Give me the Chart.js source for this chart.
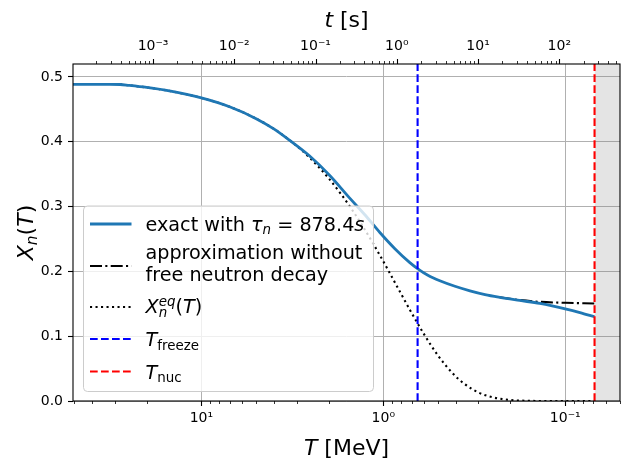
<!DOCTYPE html>
<html>
<head>
<meta charset="utf-8">
<script src="https://cdn.jsdelivr.net/npm/chart.js@4"></script>
<style>
  html, body { margin: 0; padding: 0; background: #fff; }
</style>
</head>
<body>
<canvas id="canvas" width="630" height="470"></canvas>
<script>
const ctx = document.getElementById('canvas');

// temperature T [MeV], high to low
const tempExact = [50.8, 40, 32, 28, 25, 20, 15, 10, 7, 5, 4, 3.3, 2.54, 1.97, 1.53, 1.26, 1.045, 0.864, 0.715, 0.646, 0.569, 0.489, 0.404, 0.334, 0.276, 0.229, 0.178, 0.138, 0.118, 0.1, 0.083, 0.069];
const xnExact   = [0.4885, 0.4885, 0.4885, 0.4884, 0.4870, 0.4838, 0.4785, 0.4677, 0.454, 0.4357, 0.4199, 0.403, 0.378, 0.348, 0.313, 0.287, 0.260, 0.235, 0.2135, 0.204, 0.194, 0.1855, 0.177, 0.170, 0.1642, 0.160, 0.1552, 0.1505, 0.1468, 0.1423, 0.1365, 0.130];

const tempApprox = [0.229, 0.178, 0.138, 0.1, 0.083, 0.069];
const xnApprox   = [0.160, 0.1557, 0.1530, 0.1515, 0.1510, 0.1505];

const tempEq = [28, 20, 15, 10, 7, 5, 4, 3, 2.5, 2, 1.7, 1.5, 1.3, 1.15, 1.0, 0.9, 0.8, 0.7, 0.6, 0.5, 0.42, 0.36, 0.3, 0.25, 0.2, 0.16, 0.12, 0.1, 0.069];
const xnEq   = [0.4885, 0.4838, 0.4785, 0.4677, 0.454, 0.4357, 0.4199, 0.3939, 0.3735, 0.3438, 0.3185, 0.2969, 0.2700, 0.2452, 0.2154, 0.1920, 0.1657, 0.1362, 0.1039, 0.0700, 0.0440, 0.0268, 0.0132, 0.0056, 0.0016, 0.0003, 0, 0, 0];

const tFreeze = 0.648;
const tNuc = 0.069;

const tempMin = 0.05, tempMax = 50.8;      // bottom axis (reversed)
const timeMin = 1.035e-4, timeMax = 559;   // top axis t [s]
const yTicks = [0, 0.1, 0.2, 0.3, 0.4, 0.5];
const yMax = 0.52;

const FONT = '"DejaVu Sans", sans-serif';
const pts = (xs, ys) => xs.map((x, i) => ({ x: x, y: ys[i] }));

function isPow10(v) {
  const e = Math.round(Math.log10(v));
  return Math.abs(v / Math.pow(10, e) - 1) < 1e-6;
}
function isNice(v) {
  const e = Math.floor(Math.log10(v) + 1e-9);
  const m = v / Math.pow(10, e);
  return Math.abs(m - Math.round(m)) < 1e-6;
}
const SUP = { '-': '\u207b', '0': '\u2070', '1': '\u00b9', '2': '\u00b2', '3': '\u00b3' };
function powLabel(v) {
  if (!isPow10(v)) return '';
  const e = String(Math.round(Math.log10(v)));
  return '10' + e.split('').map(c => SUP[c]).join('');
}
function keepNice(scale) {
  scale.ticks = scale.ticks.filter(t => isNice(t.value) && t.value >= scale.min * 0.9999 && t.value <= scale.max * 1.0001);
}

// --- small mathtext-like writer
function segFont(s, size) {
  const sz = (s.sub || s.sup) ? size * 0.7 : size;
  return (s.it ? 'italic ' : '') + sz.toFixed(2) + 'px ' + FONT;
}
function layoutRich(c, segs, size) {
  let x = 0, prevStart = 0;
  const items = [];
  for (const s of segs) {
    c.font = segFont(s, size);
    const w = c.measureText(s.t).width;
    const sx = s.over ? prevStart : x;
    items.push({ t: s.t, x: sx, font: c.font, dy: s.sub ? size * 0.2 : (s.sup ? -size * 0.36 : 0) });
    if (!s.over) prevStart = sx;
    x = Math.max(x, sx + w);
  }
  return { items: items, width: x };
}
function drawRich(c, segs, x, y, size, align) {
  const L = layoutRich(c, segs, size);
  const x0 = align === 'center' ? x - L.width / 2 : x;
  c.textBaseline = 'alphabetic';
  c.textAlign = 'left';
  for (const it of L.items) {
    c.font = it.font;
    c.fillText(it.t, x0 + it.x, y + it.dy);
  }
}

const legendRows = [
  { ds: 0, y: 224, lines: [[{ t: 'exact with ' }, { t: '\u03c4', it: 1 }, { t: 'n', it: 1, sub: 1 }, { t: ' = 878.4' }, { t: 's', it: 1 }]], base: [230.5] },
  { ds: 1, y: 266, lines: [[{ t: 'approximation without' }], [{ t: 'free neutron decay' }]], base: [259, 281] },
  { ds: 2, y: 307, lines: [[{ t: 'X', it: 1 }, { t: 'n', it: 1, sub: 1 }, { t: 'eq', it: 1, sup: 1, over: 1 }, { t: '(' }, { t: 'T', it: 1 }, { t: ')' }]], base: [313] },
  { ds: 3, y: 339, lines: [[{ t: 'T', it: 1 }, { t: 'freeze', sub: 1 }]], base: [346] },
  { ds: 4, y: 371.5, lines: [[{ t: 'T', it: 1 }, { t: 'nuc', sub: 1 }]], base: [378.5] }
];

const decorations = {
  id: 'decorations',
  afterDatasetsDraw(chart) {
    const c = chart.ctx, a = chart.chartArea;
    c.save();
    c.strokeStyle = '#000';
    for (const id of ['x', 'x2']) {
      const s = chart.scales[id];
      for (const t of s.ticks) {
        const px = Math.round(s.getPixelForValue(t.value)) + 0.5;
        const major = isPow10(t.value);
        const len = major ? 5 : 3;
        c.lineWidth = major ? 1.1 : 0.8;
        c.beginPath();
        if (id === 'x') { c.moveTo(px, a.bottom); c.lineTo(px, a.bottom + len); }
        else { c.moveTo(px, a.top); c.lineTo(px, a.top - len); }
        c.stroke();
      }
    }
    c.lineWidth = 1.1;
    c.strokeRect(a.left, a.top, a.right - a.left, a.bottom - a.top);
    c.restore();
  },
  afterDraw(chart) {
    const c = chart.ctx, a = chart.chartArea;
    c.save();
    c.fillStyle = '#000';
    // axis titles
    drawRich(c, [{ t: 'T', it: 1 }, { t: ' [MeV]' }], (a.left + a.right) / 2, 455, 22, 'center');
    drawRich(c, [{ t: 't', it: 1 }, { t: ' [s]' }], (a.left + a.right) / 2, 27, 22, 'center');
    c.save();
    c.translate(33, (a.top + a.bottom) / 2);
    c.rotate(-Math.PI / 2);
    drawRich(c, [{ t: 'X', it: 1 }, { t: 'n', it: 1, sub: 1 }, { t: '(' }, { t: 'T', it: 1 }, { t: ')' }], 0, 0, 22, 'center');
    c.restore();

    // legend
    const bx = 83.5, by = 206, bw = 290, bh = 185.5, r = 4;
    c.beginPath();
    c.moveTo(bx + r, by);
    c.arcTo(bx + bw, by, bx + bw, by + bh, r);
    c.arcTo(bx + bw, by + bh, bx, by + bh, r);
    c.arcTo(bx, by + bh, bx, by, r);
    c.arcTo(bx, by, bx + bw, by, r);
    c.closePath();
    c.fillStyle = 'rgba(255,255,255,0.8)';
    c.fill();
    c.strokeStyle = '#cccccc';
    c.lineWidth = 1;
    c.stroke();
    for (const row of legendRows) {
      const ds = chart.data.datasets[row.ds];
      c.save();
      c.strokeStyle = ds.borderColor;
      c.lineWidth = ds.borderWidth;
      c.setLineDash(ds.borderDash || []);
      c.beginPath();
      c.moveTo(90, row.y);
      c.lineTo(131.5, row.y);
      c.stroke();
      c.restore();
      c.fillStyle = '#000';
      row.lines.forEach((segs, i) => drawRich(c, segs, 145.5, row.base[i], 19.2, 'left'));
    }
    c.restore();
  }
};

const tickFont = { family: FONT, size: 14 };

new Chart(ctx, {
  type: 'line',
  data: {
    datasets: [
      { label: 'exact', data: pts(tempExact, xnExact), borderColor: '#1f77b4', borderWidth: 2.8, pointRadius: 0, cubicInterpolationMode: 'monotone', order: 4 },
      { label: 'approx', data: pts(tempApprox, xnApprox), borderColor: '#000', borderWidth: 2.1, borderDash: [12, 3.3, 2.1, 3.3], pointRadius: 0, cubicInterpolationMode: 'monotone', order: 4.5 },
      { label: 'eq', data: pts(tempEq, xnEq), borderColor: '#000', borderWidth: 2.1, borderDash: [2.1, 3.4], pointRadius: 0, cubicInterpolationMode: 'monotone', order: 5 },
      { label: 'freeze', data: pts([tFreeze, tFreeze], [0, yMax]), borderColor: '#0000ff', borderWidth: 2.1, borderDash: [7.7, 3.3], pointRadius: 0, order: 2 },
      { label: 'nuc', data: pts([tNuc, tNuc], [0, yMax]), borderColor: '#ff0000', borderWidth: 2.1, borderDash: [7.7, 3.3], pointRadius: 0, order: 1 },
      { label: 'span', data: pts([tNuc, tempMin], [yMax, yMax]), borderWidth: 0, borderColor: 'rgba(0,0,0,0)', backgroundColor: 'rgba(128,128,128,0.21)', fill: 'origin', pointRadius: 0, order: 10 }
    ]
  },
  options: {
    responsive: false,
    animation: false,
    devicePixelRatio: 1,
    layout: { padding: { left: 0, right: 10, top: 0, bottom: 0 } },
    plugins: { legend: { display: false }, tooltip: { enabled: false } },
    scales: {
      x: {
        type: 'logarithmic', position: 'bottom', reverse: true,
        min: tempMin, max: tempMax,
        afterBuildTicks: keepNice,
        afterFit: s => { s.height = 69; },
        border: { display: false },
        grid: { color: c => (c.tick && isPow10(c.tick.value)) ? '#b0b0b0' : 'rgba(0,0,0,0)', lineWidth: 1, drawTicks: false },
        ticks: { autoSkip: false, maxRotation: 0, padding: 9, color: '#000', font: tickFont, callback: v => powLabel(v) }
      },
      x2: {
        type: 'logarithmic', position: 'top',
        min: timeMin, max: timeMax,
        afterBuildTicks: keepNice,
        afterFit: s => { s.height = 64; },
        border: { display: false },
        grid: { drawOnChartArea: false, drawTicks: false },
        ticks: { autoSkip: false, maxRotation: 0, padding: 9, color: '#000', font: tickFont, callback: v => powLabel(v) }
      },
      y: {
        min: 0, max: yMax,
        afterBuildTicks: s => { s.ticks = yTicks.map(v => ({ value: v })); },
        afterFit: s => { s.width = 73; },
        border: { display: false },
        grid: { color: '#b0b0b0', lineWidth: 1, tickColor: '#000', tickLength: 5, tickWidth: 1.1 },
        ticks: { padding: 5, color: '#000', font: tickFont, callback: v => v.toFixed(1) }
      }
    }
  },
  plugins: [decorations]
});
</script>
</body>
</html>
